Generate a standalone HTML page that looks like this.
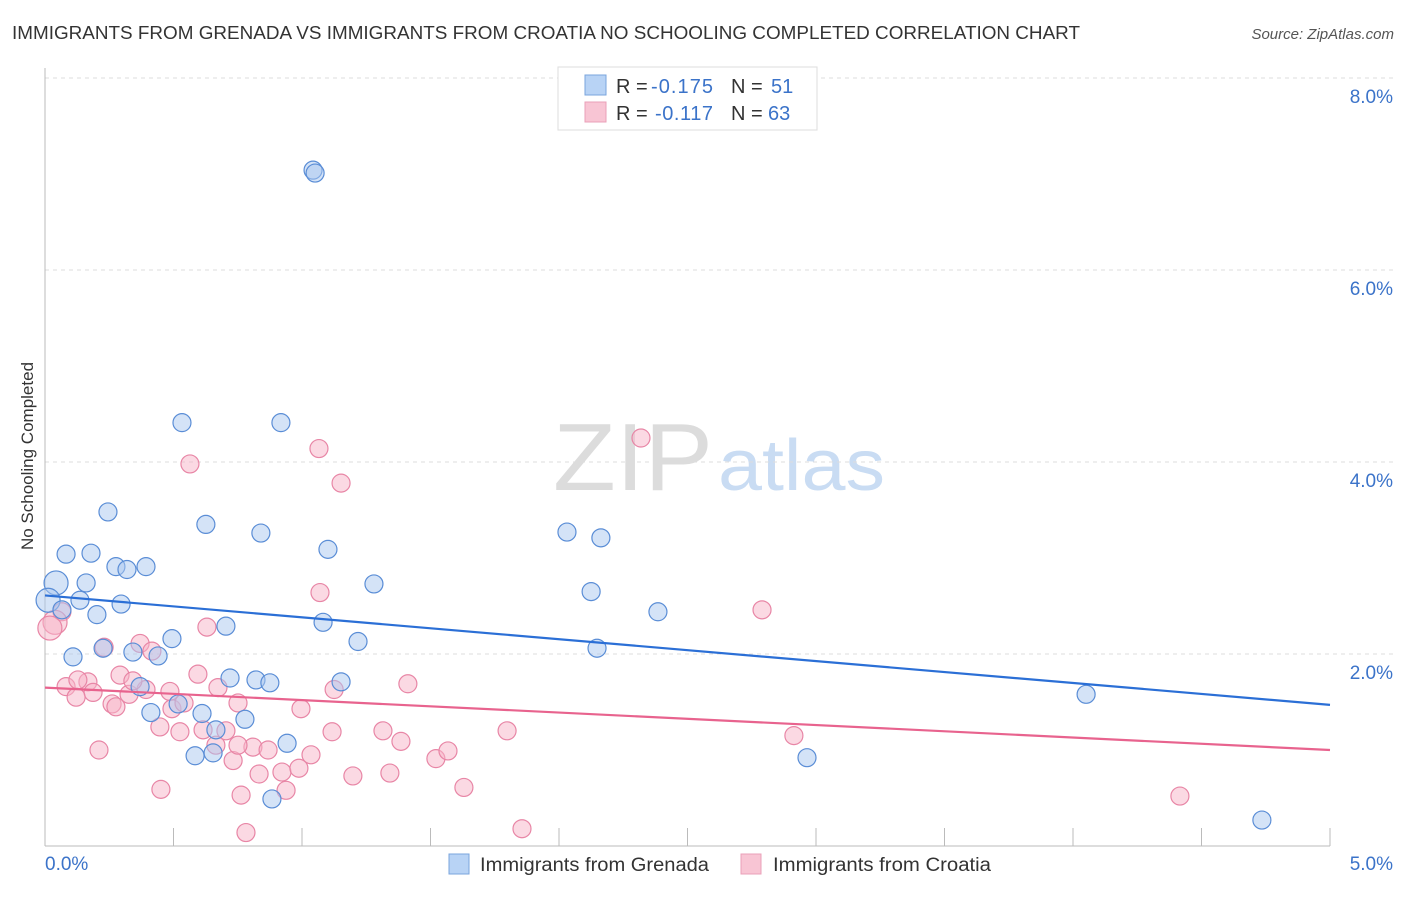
<!DOCTYPE html>
<html><head><meta charset="utf-8"><style>
body{margin:0;background:#fff;font-family:"Liberation Sans",sans-serif;}
svg text{font-family:"Liberation Sans",sans-serif;}
</style></head><body>
<svg id="chart" width="1406" height="892" xmlns="http://www.w3.org/2000/svg">
<text x="12" y="39" font-size="18" fill="#333" textLength="1068" lengthAdjust="spacingAndGlyphs">IMMIGRANTS FROM GRENADA VS IMMIGRANTS FROM CROATIA NO SCHOOLING COMPLETED CORRELATION CHART</text>
<text x="1394" y="39" font-size="15" fill="#555" text-anchor="end" font-style="italic">Source: ZipAtlas.com</text>
<g>
<text x="553" y="490" font-size="96" font-family="Liberation Serif" fill="#dcdcdc" textLength="160" lengthAdjust="spacingAndGlyphs">ZIP</text>
<text x="718" y="490" font-size="72" fill="#c9dcf3" textLength="167" lengthAdjust="spacingAndGlyphs">atlas</text>
</g>
<g id="grid"></g>
<g id="axes"></g>
<text transform="translate(33,456) rotate(-90)" font-size="17" fill="#333" text-anchor="middle">No Schooling Completed</text>
<g id="pts"></g>
<g id="trend"></g>
<g>
<rect x="558" y="67" width="259" height="63" fill="#fff" stroke="#ddd"/>
<rect x="585" y="75" width="21" height="20" fill="#b8d3f5" stroke="#7aa5dd"/>
<rect x="585" y="102" width="21" height="20" fill="#f8c5d4" stroke="#eaa0b8"/>
<text x="616" y="93" font-size="20" fill="#333">R = <tspan x="651" fill="#3b73c9" textLength="62">-0.175</tspan><tspan x="731">N = </tspan><tspan x="771" fill="#3b73c9">51</tspan></text>
<text x="616" y="120" font-size="20" fill="#333">R = <tspan x="655" fill="#3b73c9" textLength="58">-0.117</tspan><tspan x="731">N = </tspan><tspan x="768" fill="#3b73c9">63</tspan></text>
</g>
<g>
<rect x="449" y="854" width="20" height="20" fill="#b8d3f5" stroke="#7aa5dd"/>
<text x="480" y="871" font-size="19" fill="#333" textLength="229" lengthAdjust="spacingAndGlyphs">Immigrants from Grenada</text>
<rect x="741" y="854" width="20" height="20" fill="#f8c5d4" stroke="#eaa0b8"/>
<text x="773" y="871" font-size="19" fill="#333" textLength="218" lengthAdjust="spacingAndGlyphs">Immigrants from Croatia</text>
</g>
</svg>
<script>
const blueX=[1.043,1.051,0.533,0.918,0.245,0.626,0.840,0.082,0.179,1.101,2.031,2.163,0.276,0.319,0.393,0.043,0.160,1.280,2.125,0.136,0.296,0.012,0.066,0.202,1.082,2.385,0.704,0.494,1.218,0.342,0.440,0.226,0.109,2.148,0.720,0.821,0.875,1.152,0.370,0.518,0.412,0.611,0.778,4.051,0.665,0.942,0.584,0.654,2.965,0.883,4.735];
const blueY=[7.04,7.01,4.41,4.41,3.48,3.35,3.26,3.04,3.05,3.09,3.27,3.21,2.91,2.88,2.91,2.74,2.74,2.73,2.65,2.56,2.52,2.56,2.46,2.41,2.33,2.44,2.29,2.16,2.13,2.02,1.98,2.06,1.97,2.06,1.75,1.73,1.70,1.71,1.66,1.48,1.39,1.38,1.32,1.58,1.21,1.07,0.94,0.97,0.92,0.49,0.27];
const pinkX=[0.564,1.066,1.152,2.319,0.066,0.039,0.019,1.070,2.790,0.630,0.230,0.370,0.416,0.292,0.082,0.167,0.128,0.187,0.121,0.327,0.393,0.342,0.486,0.595,0.673,0.494,0.541,0.261,0.276,0.447,0.525,0.615,0.704,0.751,1.125,0.996,1.412,0.210,0.732,0.809,0.868,0.922,0.988,1.035,1.117,1.315,1.385,1.521,1.568,1.798,2.914,0.833,0.938,0.451,0.763,1.198,1.342,1.630,0.782,1.856,4.416,0.665,0.751];
const pinkY=[3.98,4.14,3.78,4.25,2.44,2.33,2.27,2.64,2.46,2.28,2.07,2.11,2.03,1.78,1.66,1.71,1.73,1.60,1.55,1.58,1.63,1.72,1.61,1.79,1.65,1.43,1.49,1.48,1.45,1.24,1.19,1.21,1.20,1.49,1.63,1.43,1.69,1.00,0.89,1.03,1.00,0.77,0.81,0.95,1.19,1.20,1.09,0.91,0.99,1.20,1.15,0.75,0.58,0.59,0.53,0.73,0.76,0.61,0.14,0.18,0.52,1.05,1.05];
const blueTrend=[2.61,1.47];
const pinkTrend=[1.65,1.00];
const yTicks=[2,4,6,8];
const yTickLabels=["2.0%","4.0%","6.0%","8.0%"];
const xTicks=[0,0.5,1,1.5,2,2.5,3,3.5,4,4.5,5];
const NS="http://www.w3.org/2000/svg";
const X0=45,X1=1330,Y0=846,PY=96;
const sx=v=>X0+v/5*(X1-X0);
const sy=v=>Y0-v*PY;
function mk(tag,attrs,parent){const e=document.createElementNS(NS,tag);for(const k in attrs)e.setAttribute(k,attrs[k]);document.getElementById(parent).appendChild(e);return e;}
yTicks.forEach((t,i)=>{
 const l=mk('line',{x1:X0,x2:1394,y1:sy(t),y2:sy(t),stroke:'#ddd','stroke-dasharray':'4,4'},'grid');
 
 
 const tx=mk('text',{x:1393,y:sy(t)+25,'font-size':19,fill:'#3b73c9','text-anchor':'end'},'grid');
 tx.textContent=yTickLabels[i];
 
 
});
const ax=mk('line',{x1:X0,x2:X0,y1:68,y2:Y0,stroke:'#bbb'},'axes');


const bx=mk('line',{x1:X0,x2:X1,y1:Y0,y2:Y0,stroke:'#bbb'},'axes');


xTicks.forEach(t=>{
 const l=mk('line',{x1:sx(t),x2:sx(t),y1:Y0-18,y2:Y0,stroke:'#bbb'},'axes');
 
 
});
const xl0=mk('text',{x:45,y:870,'font-size':19,fill:'#3b73c9'},'axes');xl0.textContent='0.0%';


const xl1=mk('text',{x:1393,y:870,'font-size':19,fill:'#3b73c9','text-anchor':'end'},'axes');xl1.textContent='5.0%';


function pts(xs,ys,fill,stroke,name){xs.forEach((x,i)=>{
 const r=(x<0.06&&ys[i]>2.2&&ys[i]<2.8)?12:9;
 const c=mk('circle',{cx:sx(x),cy:sy(ys[i]),r:r,fill:fill,'fill-opacity':0.5,stroke:stroke,'stroke-width':1.2},'pts');
 
 
});}
pts(pinkX,pinkY,'#f7b3c7','#e886a6','croatia-point');
pts(blueX,blueY,'#a9c8f0','#5a8dd6','grenada-point');
const t1=mk('line',{x1:sx(0),y1:sy(blueTrend[0]),x2:sx(5),y2:sy(blueTrend[1]),stroke:'#2b6fd6','stroke-width':2.2},'trend');


const t2=mk('line',{x1:sx(0),y1:sy(pinkTrend[0]),x2:sx(5),y2:sy(pinkTrend[1]),stroke:'#e8638e','stroke-width':2.2},'trend');


</script>
</body></html>
